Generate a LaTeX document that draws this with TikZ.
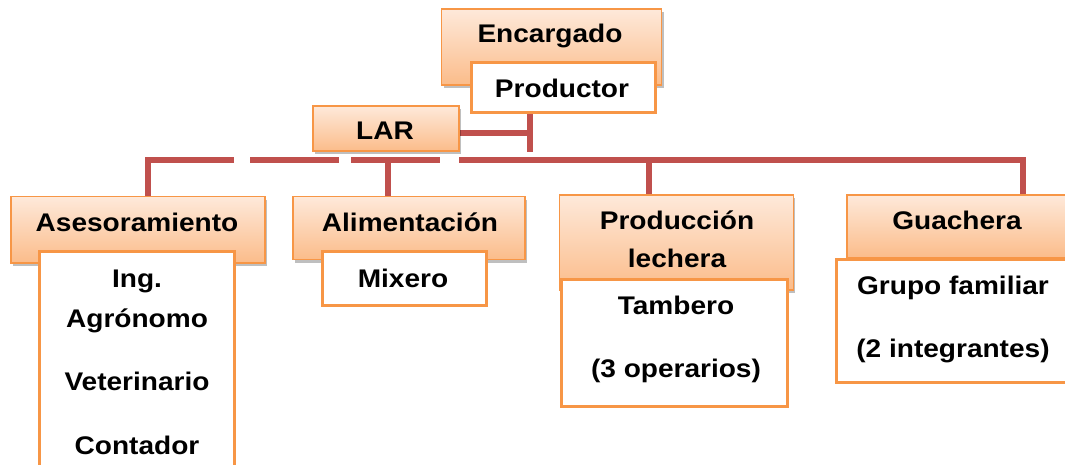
\documentclass[tikz,border=0pt]{standalone}
\usepackage{fontspec}
\setmainfont{Liberation Sans}[FakeStretch=1.1]
\usetikzlibrary{shadows}
\definecolor{orbord}{HTML}{F79646}
\definecolor{hdtop}{HTML}{FEE9DA}
\definecolor{hdbot}{HTML}{FBBC8A}
\definecolor{connc}{HTML}{C0504D}
\tikzset{
  hdr/.style={draw=orbord, line width=1.5pt, top color=hdtop, bottom color=hdbot,
    inner sep=0pt, drop shadow={shadow xshift=2pt, shadow yshift=-3pt, opacity=0.25, fill=black}},
  cbox/.style={draw=orbord, line width=3pt, fill=white, inner sep=0pt},
  lbl/.style={font=\fontsize{25.5}{30}\selectfont\bfseries, inner sep=0pt,
    text height=18pt, text depth=0pt, anchor=center},
  conn/.style={draw=connc, line width=6pt, line join=miter},
}
\newcommand{\bx}[6]{% style, name, x1, y1, x2, y2
  \path (#3,#4) -- (#5,#6) node[#1, midway, minimum width={#5-#3}, minimum height={#6-#4}] (#2) {};}
\begin{document}
\begin{tikzpicture}[x=1pt,y=-1pt]
\useasboundingbox (0,0) rectangle (1065,464);
\clip (0,0) rectangle (1065,464);
% connector points
\coordinate (ta) at (148,197);
\coordinate (tb) at (388,197);
\coordinate (tc) at (649,196);
\coordinate (td) at (1023,196);
\coordinate (g1) at (234,160);
\coordinate (g2) at (250,160);
\coordinate (g3) at (339,160);
\coordinate (g4) at (351,160);
\coordinate (g5) at (440,160);
\coordinate (g6) at (459,160);
\coordinate (g7) at (1023,160);
\coordinate (pk) at (530,152);
\coordinate (pt) at (530,111);
\coordinate (lj) at (459,133);
% connectors
\draw[conn] (ta) |- (g1);
\draw[conn] (g2) -- (g3);
\draw[conn] (g4) -- (g5);
\draw[conn] (tb) -- (tb |- g4);
\draw[conn] (g6) -- (g7) -- (td);
\draw[conn] (tc) -- (tc |- g6);
\draw[conn] (pt) -- (pk);
\draw[conn] (lj) -- (lj -| pk);
% top
\bx{hdr}{enc}{441.7}{9}{661.7}{85}
\bx{cbox}{prod}{471.7}{62}{655}{112}
\node[lbl] (tenc) at (550,33) {Encargado};
\node[lbl] (tprod) at (562,88) {Productor};
\bx{hdr}{lar}{313}{106}{459}{151}
\node[lbl] (tlar) at (385,130) {LAR};
% Asesoramiento
\bx{hdr}{ases}{11}{196.5}{265}{263}
\bx{cbox}{asesc}{39.6}{251.5}{234}{480}
\node[lbl] (tases) at (137,222) {Asesoramiento};
\node[lbl] (ting) at (137,278) {Ing.};
\node[lbl] (tagr) at (137,318) {Agrónomo};
\node[lbl] (tvet) at (137,381) {Veterinario};
\node[lbl] (tcon) at (137,445) {Contador};
% Alimentacion
\bx{hdr}{alim}{293}{196.5}{525}{259.5}
\bx{cbox}{mix}{322}{251.5}{486}{305.6}
\node[lbl] (talim) at (410,222) {Alimentación};
\node[lbl] (tmix) at (403,278) {Mixero};
% Produccion
\bx{hdr}{prl}{559.4}{195}{793.4}{290}
\bx{cbox}{tam}{561.8}{279}{787}{406}
\node[lbl] (tprl1) at (677,220) {Producción};
\node[lbl] (tprl2) at (677,258) {lechera};
\node[lbl] (ttam) at (676,305) {Tambero};
\node[lbl] (tope) at (676,368) {(3 operarios)};
% Guachera
\bx{hdr}{gua}{847}{195}{1085}{258}
\bx{cbox}{gru}{836}{259}{1085}{382}
\node[lbl] (tgua) at (957,220) {Guachera};
\node[lbl] (tgru) at (953,285) {Grupo familiar};
\node[lbl] (tint) at (953,348) {(2 integrantes)};
\end{tikzpicture}
\end{document}
